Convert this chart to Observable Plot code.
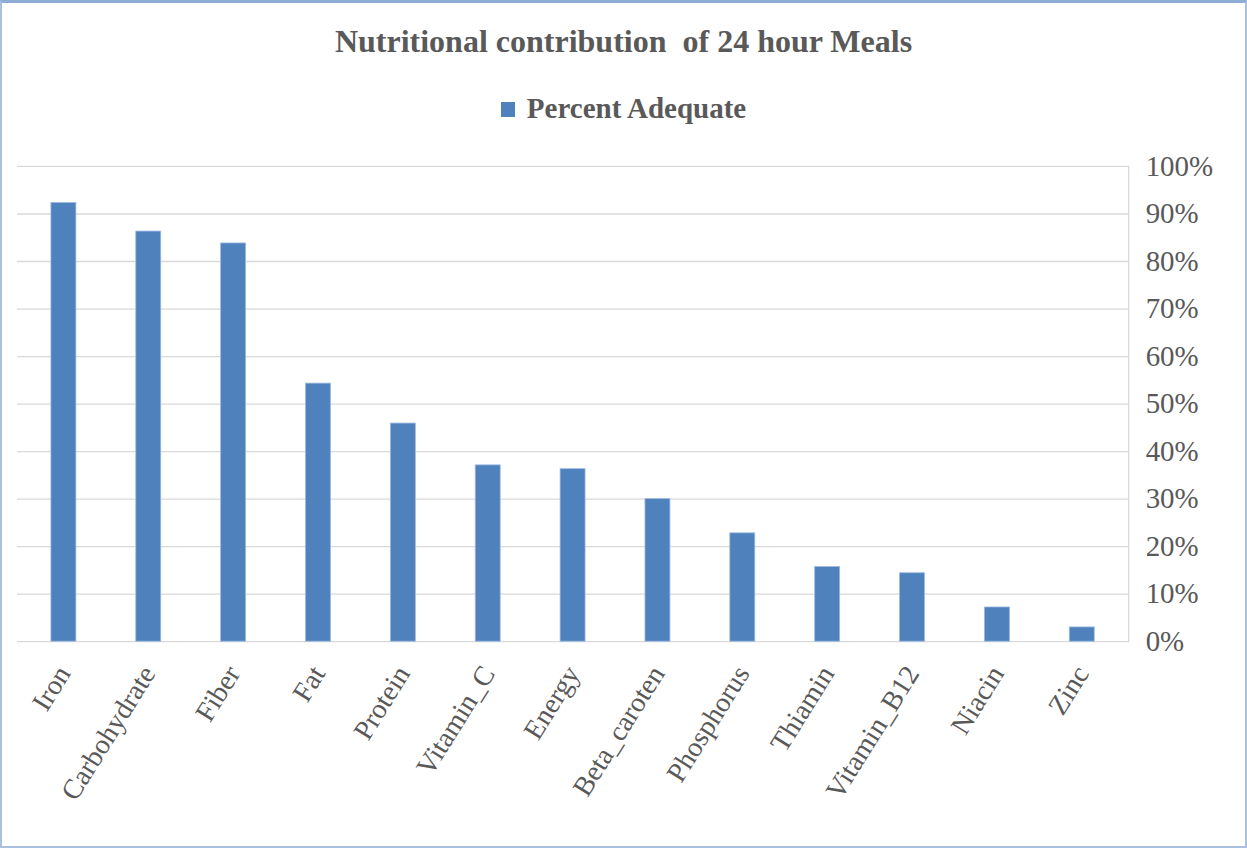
<!DOCTYPE html>
<html>
<head>
<meta charset="utf-8">
<script src="https://cdn.jsdelivr.net/npm/d3@7"></script>
<script src="https://cdn.jsdelivr.net/npm/@observablehq/plot@0.6"></script>
<style>
  html, body { margin: 0; padding: 0; background: #fff; }
  #wrap { position: relative; width: 1247px; height: 848px; box-sizing: border-box;
          border: 2px solid #a9c1df; border-top: 3px solid #8eadd6; overflow: hidden;
          font-family: "Liberation Serif", "Times New Roman", serif; color: #595959; }
  #title { position: absolute; left: 0; width: 100%; top: 20px; text-align: center;
           font-size: 32px; font-weight: bold; line-height: 36px; white-space: pre; }
  #legend { position: absolute; left: 0; width: 100%; top: 87px; text-align: center;
            font-size: 29px; font-weight: bold; line-height: 36px; }
  #legend .sw { display: inline-block; width: 14px; height: 15px; background: #4f81bd;
                margin-right: 12px; vertical-align: 1px; }
  #chart { position: absolute; left: -2px; top: 137px; }
</style>
</head>
<body>
<div id="wrap">
  <div id="title">Nutritional contribution  of 24 hour Meals</div>
  <div id="legend"><span class="sw"></span>Percent Adequate</div>
  <div id="chart"></div>
</div>
<script>
const nutrients = ["Iron", "Carbohydrate", "Fiber", "Fat", "Protein", "Vitamin_C", "Energy",
                   "Beta_caroten", "Phosphorus", "Thiamin", "Vitamin_B12", "Niacin", "Zinc"];
const percentAdequate = [92.3, 86.3, 83.8, 54.3, 45.9, 37.1, 36.3, 30.0, 22.8, 15.7, 14.4, 7.2, 3.0];
const yTicks = [0, 10, 20, 30, 40, 50, 60, 70, 80, 90, 100];

const data = nutrients.map((n, i) => ({nutrient: n, value: percentAdequate[i]}));

const chart = Plot.plot({
  width: 1247,
  height: 708,
  marginTop: 26,
  marginBottom: 206,
  marginLeft: 17,
  marginRight: 117,
  style: {fontFamily: '"Liberation Serif", "Times New Roman", serif', color: "#595959", background: "transparent"},
  x: {domain: nutrients, padding: 0.71, paddingOuter: 0.355, align: 0.5},
  y: {domain: [0, 100]},
  marks: [
    Plot.gridY(yTicks, {stroke: "#d9d9d9", strokeOpacity: 1, strokeWidth: 1.3}),
    Plot.frame({anchor: "right", stroke: "#d9d9d9", strokeWidth: 1.3}),
    Plot.barY(data, {x: "nutrient", y: "value", fill: "#4f81bd", stroke: "#9bb9e0", strokeWidth: 0.8}),
    Plot.axisY(yTicks, {anchor: "right", tickSize: 0, tickPadding: 17, fontSize: 29,
                        tickFormat: d => d + "%", fill: "#595959", label: null}),
    Plot.axisX({tickRotate: -58, tickSize: 0, tickPadding: 27, fontSize: 28, fill: "#595959", label: null})
  ]
});
document.getElementById("chart").appendChild(chart);
</script>
</body>
</html>
